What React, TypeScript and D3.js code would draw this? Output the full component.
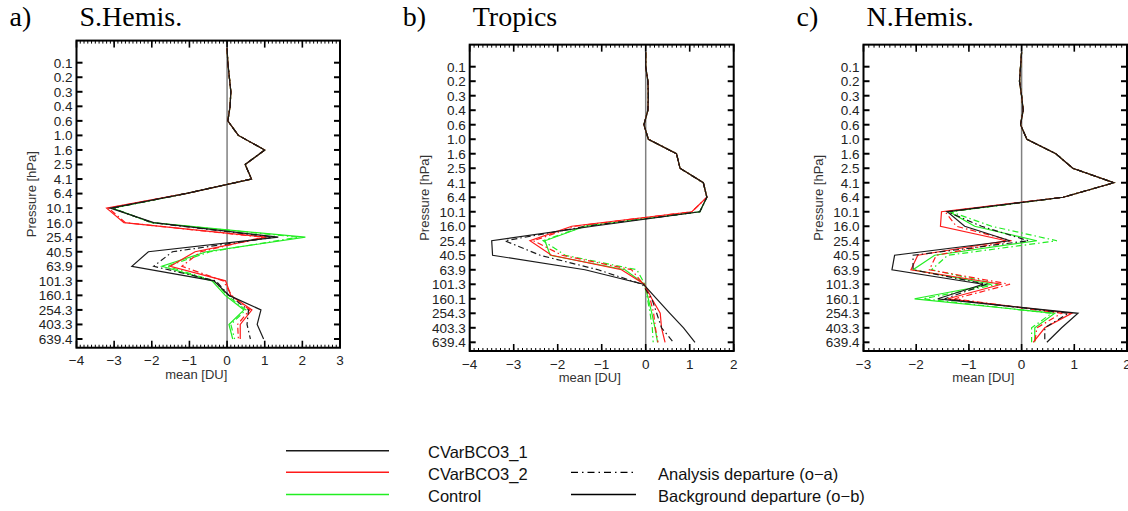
import React from "react";
import * as d3 from "d3";

// ---------- data ----------
const levelLabels = ["0.1","0.2","0.3","0.4","0.6","1.0","1.6","2.5","4.1","6.4","10.1","16.0","25.4","40.5","63.9","101.3","160.1","254.3","403.3","639.4"];
// level indices (0 = 0.1 hPa); -1 is the level above the top label
const upperIdx = [-1, 0, 1, 2, 3, 4, 5, 6, 7, 8, 9];
const lowerIdx = [10, 11, 12, 13, 14, 15, 16, 17, 18, 19];

// S.Hemis. (a)
const a_upper = [0, 0.02, 0.06, 0.1, 0.08, 0.02, 0.3, 1.0, 0.48, 0.65, -1.1];
const a_cvar1_ob = [-3.1, -1.95, 1.36, -2.09, -2.53, -0.35, 0.05, 0.9, 0.8, 0.97];
const a_cvar1_oa = [-3.05, -2.0, 1.25, -1.45, -1.95, -0.3, 0.05, 0.57, 0.53, 0.62];
const a_cvar2_ob = [-3.2, -2.74, 1.05, -0.85, -1.51, -0.04, 0.1, 0.66, 0.35, 0.35];
const a_cvar2_oa = [-3.15, -2.7, 0.95, -0.7, -1.2, -0.1, 0.12, 0.6, 0.28, 0.3];
const a_ctrl_ob = [-3.05, -2.0, 2.08, -0.55, -1.73, -0.4, -0.05, 0.45, 0.05, 0.15];
const a_ctrl_oa = [-3.05, -2.0, 1.9, -0.45, -1.6, -0.35, 0.0, 0.5, 0.1, 0.2];

// Tropics (b)
const b_upper = [0, 0, 0.05, 0.06, 0.05, -0.04, 0.06, 0.7, 0.78, 1.31, 1.39];
const b_cvar1_ob = [1.23, -1.2, -3.5, -3.48, -1.38, -0.05, 0.25, 0.55, 0.86, 1.12];
const b_cvar1_oa = [1.23, -1.35, -3.2, -2.4, -1.08, -0.08, 0.14, 0.25, 0.36, 0.63];
const b_cvar2_ob = [1.05, -1.68, -2.63, -2.14, -0.55, -0.03, 0.14, 0.33, 0.36, 0.44];
const b_cvar2_oa = [1.05, -1.6, -2.55, -1.9, -0.32, -0.05, 0.1, 0.18, 0.22, 0.28];
const b_ctrl_ob = [1.23, -1.38, -2.29, -2.17, -0.47, -0.02, 0.06, 0.14, 0.21, 0.27];
const b_ctrl_oa = [1.23, -1.4, -2.33, -1.83, -0.2, -0.02, 0.04, 0.1, 0.15, 0.17];

// N.Hemis. (c)
const c_upper = [0, -0.02, -0.04, 0, 0.03, -0.02, 0.1, 0.65, 0.97, 1.75, 0.79];
const c_cvar1_ob = [-1.41, -1.08, -0.22, -2.41, -2.46, -0.73, -1.59, 1.07, 0.76, 0.48];
const c_cvar1_oa = [-1.41, -0.76, 0.13, -2.06, -2.06, -0.67, -1.46, 0.89, 0.44, 0.44];
const c_cvar2_ob = [-1.52, -1.54, -0.29, -1.97, -2.1, -0.38, -1.4, 0.95, 0.44, 0.22];
const c_cvar2_oa = [-1.45, -1.24, -0.19, -1.62, -1.75, -0.22, -1.27, 0.76, 0.29, 0.25];
const c_ctrl_ob = [-1.37, -0.89, 0.29, -1.65, -2.06, -0.57, -2.03, 0.63, 0.25, 0.25];
const c_ctrl_oa = [-1.35, -0.57, 0.67, -1.4, -1.71, -0.44, -1.87, 0.57, 0.19, 0.19];

const experiments = ["CVarBCO3_1", "CVarBCO3_2", "Control"];
const expColors = ["#1a1a1a", "#ff1a1a", "#22ee22"];
const departureTypes = ["Analysis departure (o\u2212a)", "Background departure (o\u2212b)"];

// ---------- styling ----------
const SANS = "'Liberation Sans', Arial, Helvetica, sans-serif";
const SERIF = "'Liberation Serif', 'Times New Roman', serif";
const DASHDOT = "6,3,1.5,3";

type Series = { exp: number; dash: boolean; values: number[] };

function build(upper: number[], lower: number[][]): Series[] {
  // lower order: cvar1 ob, cvar1 oa, cvar2 ob, cvar2 oa, ctrl ob, ctrl oa
  return lower.map((l, i) => ({
    exp: Math.floor(i / 2),
    dash: i % 2 === 1,
    values: [...upper, ...l],
  }));
}

const panels = [
  {
    letter: "a)", title: "S.Hemis.", xDomain: [-4, 3], xRange: [76.5, 340], yRange: [62.7, 339],
    series: build(a_upper, [a_cvar1_ob, a_cvar1_oa, a_cvar2_ob, a_cvar2_oa, a_ctrl_ob, a_ctrl_oa]),
  },
  {
    letter: "b)", title: "Tropics", xDomain: [-4, 2], xRange: [469.7, 733.7], yRange: [66.7, 342.3],
    series: build(b_upper, [b_cvar1_ob, b_cvar1_oa, b_cvar2_ob, b_cvar2_oa, b_ctrl_ob, b_ctrl_oa]),
  },
  {
    letter: "c)", title: "N.Hemis.", xDomain: [-3, 2], xRange: [863.5, 1127], yRange: [66.7, 342.3],
    series: build(c_upper, [c_cvar1_ob, c_cvar1_oa, c_cvar2_ob, c_cvar2_oa, c_ctrl_ob, c_ctrl_oa]),
  },
];

const allIdx = [...upperIdx, ...lowerIdx];

function Panel({ p }: { p: typeof panels[number] }) {
  const x = d3.scaleLinear().domain(p.xDomain).range(p.xRange);
  const y = d3.scaleLinear().domain([0, 19]).range(p.yRange);
  const top = y(-1.52);
  const bottom = y(19.6);
  const left = p.xRange[0];
  const right = p.xRange[1];
  const majors = d3.range(p.xDomain[0], p.xDomain[1] + 0.001, 1);
  const minors = d3.range(p.xDomain[0] * 10, p.xDomain[1] * 10 + 0.001, 1).map((v) => v / 10);
  const line = d3
    .line<number>()
    .x((v) => x(v))
    .y((_, i) => y(allIdx[i]));
  const fmt = (v: number) => (v < 0 ? "\u2212" + Math.abs(v) : String(v));
  const cx = (left + right) / 2 - 12;
  const cy = (top + bottom) / 2;
  // draw order: green, red, black (black on top)
  const order = [...p.series].sort((s1, s2) => s2.exp - s1.exp);
  return (
    <g>
      <text x={left - 67} y={26} fontFamily={SERIF} fontSize={28}>{p.letter}</text>
      <text x={left + 3} y={26} fontFamily={SERIF} fontSize={28}>{p.title}</text>
      {/* zero line */}
      <line x1={x(0)} x2={x(0)} y1={top} y2={bottom} stroke="#808080" strokeWidth={1.5} />
      {/* data lines */}
      <g>
        {order.map((s, i) => (
          <path
            key={i}
            d={line(s.values) || ""}
            fill="none"
            stroke={expColors[s.exp]}
            strokeWidth={1.2}
            strokeDasharray={s.dash ? DASHDOT : undefined}
            strokeLinejoin="miter"
          />
        ))}
      </g>
      {/* minor x ticks */}
      {minors.map((v, i) => (
        <g key={"m" + i}>
          <line x1={x(v)} x2={x(v)} y1={bottom} y2={bottom - 3} stroke="#000" strokeWidth={1} />
          <line x1={x(v)} x2={x(v)} y1={top} y2={top + 3} stroke="#000" strokeWidth={1} />
        </g>
      ))}
      {/* major x ticks + labels */}
      {majors.map((v, i) => (
        <g key={"M" + i}>
          <line x1={x(v)} x2={x(v)} y1={bottom} y2={bottom - 7} stroke="#000" strokeWidth={1.6} />
          <line x1={x(v)} x2={x(v)} y1={top} y2={top + 7} stroke="#000" strokeWidth={1.6} />
          <text x={x(v)} y={bottom + 17.5} textAnchor="middle" fontFamily={SANS} fontSize={13.5} fill="#222">
            {fmt(v)}
          </text>
        </g>
      ))}
      {/* y ticks + labels */}
      {levelLabels.map((lab, i) => (
        <g key={"y" + i}>
          <line x1={left} x2={left + 6} y1={y(i)} y2={y(i)} stroke="#000" strokeWidth={2} />
          <line x1={right} x2={right - 6} y1={y(i)} y2={y(i)} stroke="#000" strokeWidth={2} />
          <text x={left - 4} y={y(i)} dy="0.36em" textAnchor="end" fontFamily={SANS} fontSize={13.5} fill="#222">
            {lab}
          </text>
        </g>
      ))}
      {/* frame */}
      <rect x={left} y={top} width={right - left} height={bottom - top} fill="none" stroke="#000" strokeWidth={2} />
      {/* axis titles */}
      <text x={cx} y={bottom + 31} textAnchor="middle" fontFamily={SANS} fontSize={13} fill="#333">
        mean [DU]
      </text>
      <text
        transform={`translate(${left - 41},${cy}) rotate(-90)`}
        textAnchor="middle"
        fontFamily={SANS}
        fontSize={13}
        fill="#333"
      >
        Pressure [hPa]
      </text>
    </g>
  );
}

function Legend() {
  const rows = [450.7, 472.3, 494.5];
  return (
    <g fontFamily={SANS} fontSize={16.5} fill="#111">
      {experiments.map((e, i) => (
        <g key={e}>
          <line x1={286} x2={389} y1={rows[i]} y2={rows[i]} stroke={expColors[i]} strokeWidth={1.5} />
          <text x={428} y={rows[i] + 7.5}>{e}</text>
        </g>
      ))}
      {departureTypes.map((t, i) => (
        <g key={t}>
          <line
            x1={571}
            x2={636}
            y1={rows[i + 1]}
            y2={rows[i + 1]}
            stroke="#000"
            strokeWidth={1.3}
            strokeDasharray={i === 0 ? "7,4,1.5,4" : undefined}
          />
          <text x={658} y={rows[i + 1] + 7.5}>{t}</text>
        </g>
      ))}
    </g>
  );
}

export default function App() {
  return (
    <svg
      width={1128}
      height={511}
      style={{ position: "absolute", left: 0, top: 0, background: "#fff" }}
    >
      <rect width={1128} height={511} fill="#fff" />
      {panels.map((p) => (
        <Panel key={p.letter} p={p} />
      ))}
      <Legend />
    </svg>
  );
}
